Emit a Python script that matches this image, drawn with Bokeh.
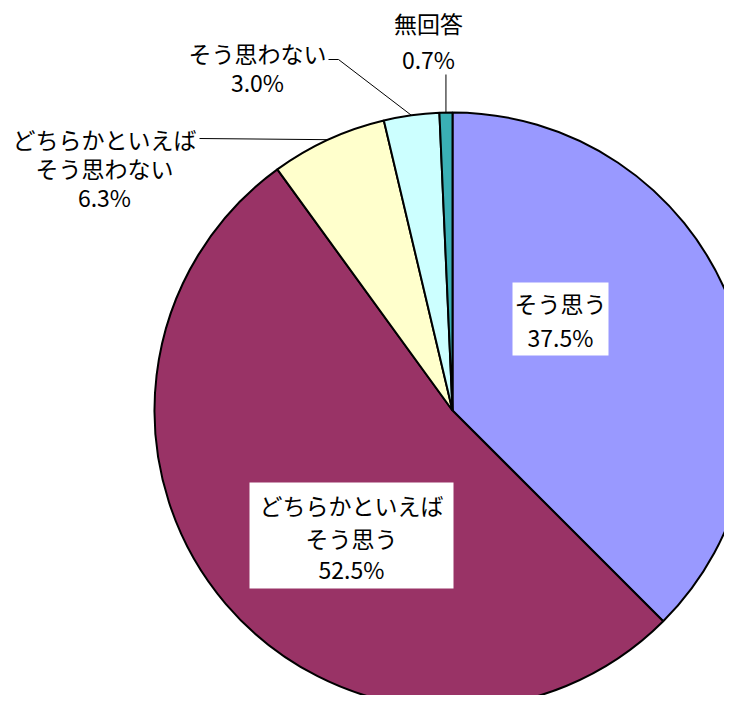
import math
from bokeh.plotting import figure
from bokeh.models import Range1d, ColumnDataSource
from bokeh.core.properties import value
from bokeh.embed import file_html
from bokeh.resources import INLINE

# ---- data ----
categories = ["そう思う", "どちらかといえば\nそう思う", "どちらかといえば\nそう思わない", "そう思わない", "無回答"]
percents = [37.5, 52.5, 6.3, 3.0, 0.7]
colors = ["#9999FF", "#993366", "#FFFFCC", "#CCFFFF", "#3AAFB5"]

FONT = "Noto Sans CJK JP"
FS = "23px"

W, H = 724, 695
IMG_H = 711

def Y(img_y):
    return IMG_H - img_y

p = figure(width=W, height=H, output_backend="svg", toolbar_location=None,
           x_range=Range1d(0, W), y_range=Range1d(IMG_H - H, IMG_H),
           x_axis_type=None, y_axis_type=None, min_border=0)
p.grid.visible = False
p.outline_line_color = None
p.background_fill_color = "white"
p.border_fill_color = "white"

cx, cy, r = 452, Y(410), 298

total = sum(percents)
starts, ends, mids = [], [], []
cum = 0.0
for v in percents:
    a0 = math.pi / 2 - 2 * math.pi * cum / total
    cum += v
    a1 = math.pi / 2 - 2 * math.pi * cum / total
    starts.append(a0)
    ends.append(a1)
    mids.append((a0 + a1) / 2)

src = ColumnDataSource(dict(start=starts, end=ends, color=colors))
p.wedge(x=cx, y=cy, radius=r, start_angle="start", end_angle="end", direction="clock",
        fill_color="color", line_color="black", line_width=2, source=src)

def edge(i, f=1.0):
    return cx + f * r * math.cos(mids[i]), cy + f * r * math.sin(mids[i])

def label(lines, x, ys):
    for t, yy in zip(lines, ys):
        p.text(x=[x], y=[Y(yy)], text=[t], text_align="center", text_baseline="middle",
               text_font=value(FONT), text_font_size=FS, text_color="black")

def pct(v):
    return f"{v:.1f}%"

# inside label boxes
p.rect(x=[560], y=[Y(318.5)], width=96, height=73, fill_color="white", line_color=None)
label(["そう思う", pct(percents[0])], 560, [302, 336])

p.rect(x=[351], y=[Y(535)], width=204, height=106, fill_color="white", line_color=None)
label(categories[1].split("\n") + [pct(percents[1])], 351, [504, 537, 568])

# outside labels with leader lines
ex, ey = edge(2)
p.line(x=[199, ex], y=[Y(138), ey], line_color="black", line_width=1)
label(categories[2].split("\n") + [pct(percents[2])], 104, [138, 167, 196])

ex, ey = edge(3)
p.line(x=[328, 338, ex], y=[Y(59), Y(59), ey], line_color="black", line_width=1)
label([categories[3], pct(percents[3])], 257, [52, 81])

ex, ey = edge(4)
p.line(x=[ex, ex], y=[Y(74), ey], line_color="black", line_width=1)
label([categories[4], pct(percents[4])], 428, [22, 58])

open("out.html", "w").write(file_html(p, INLINE))
